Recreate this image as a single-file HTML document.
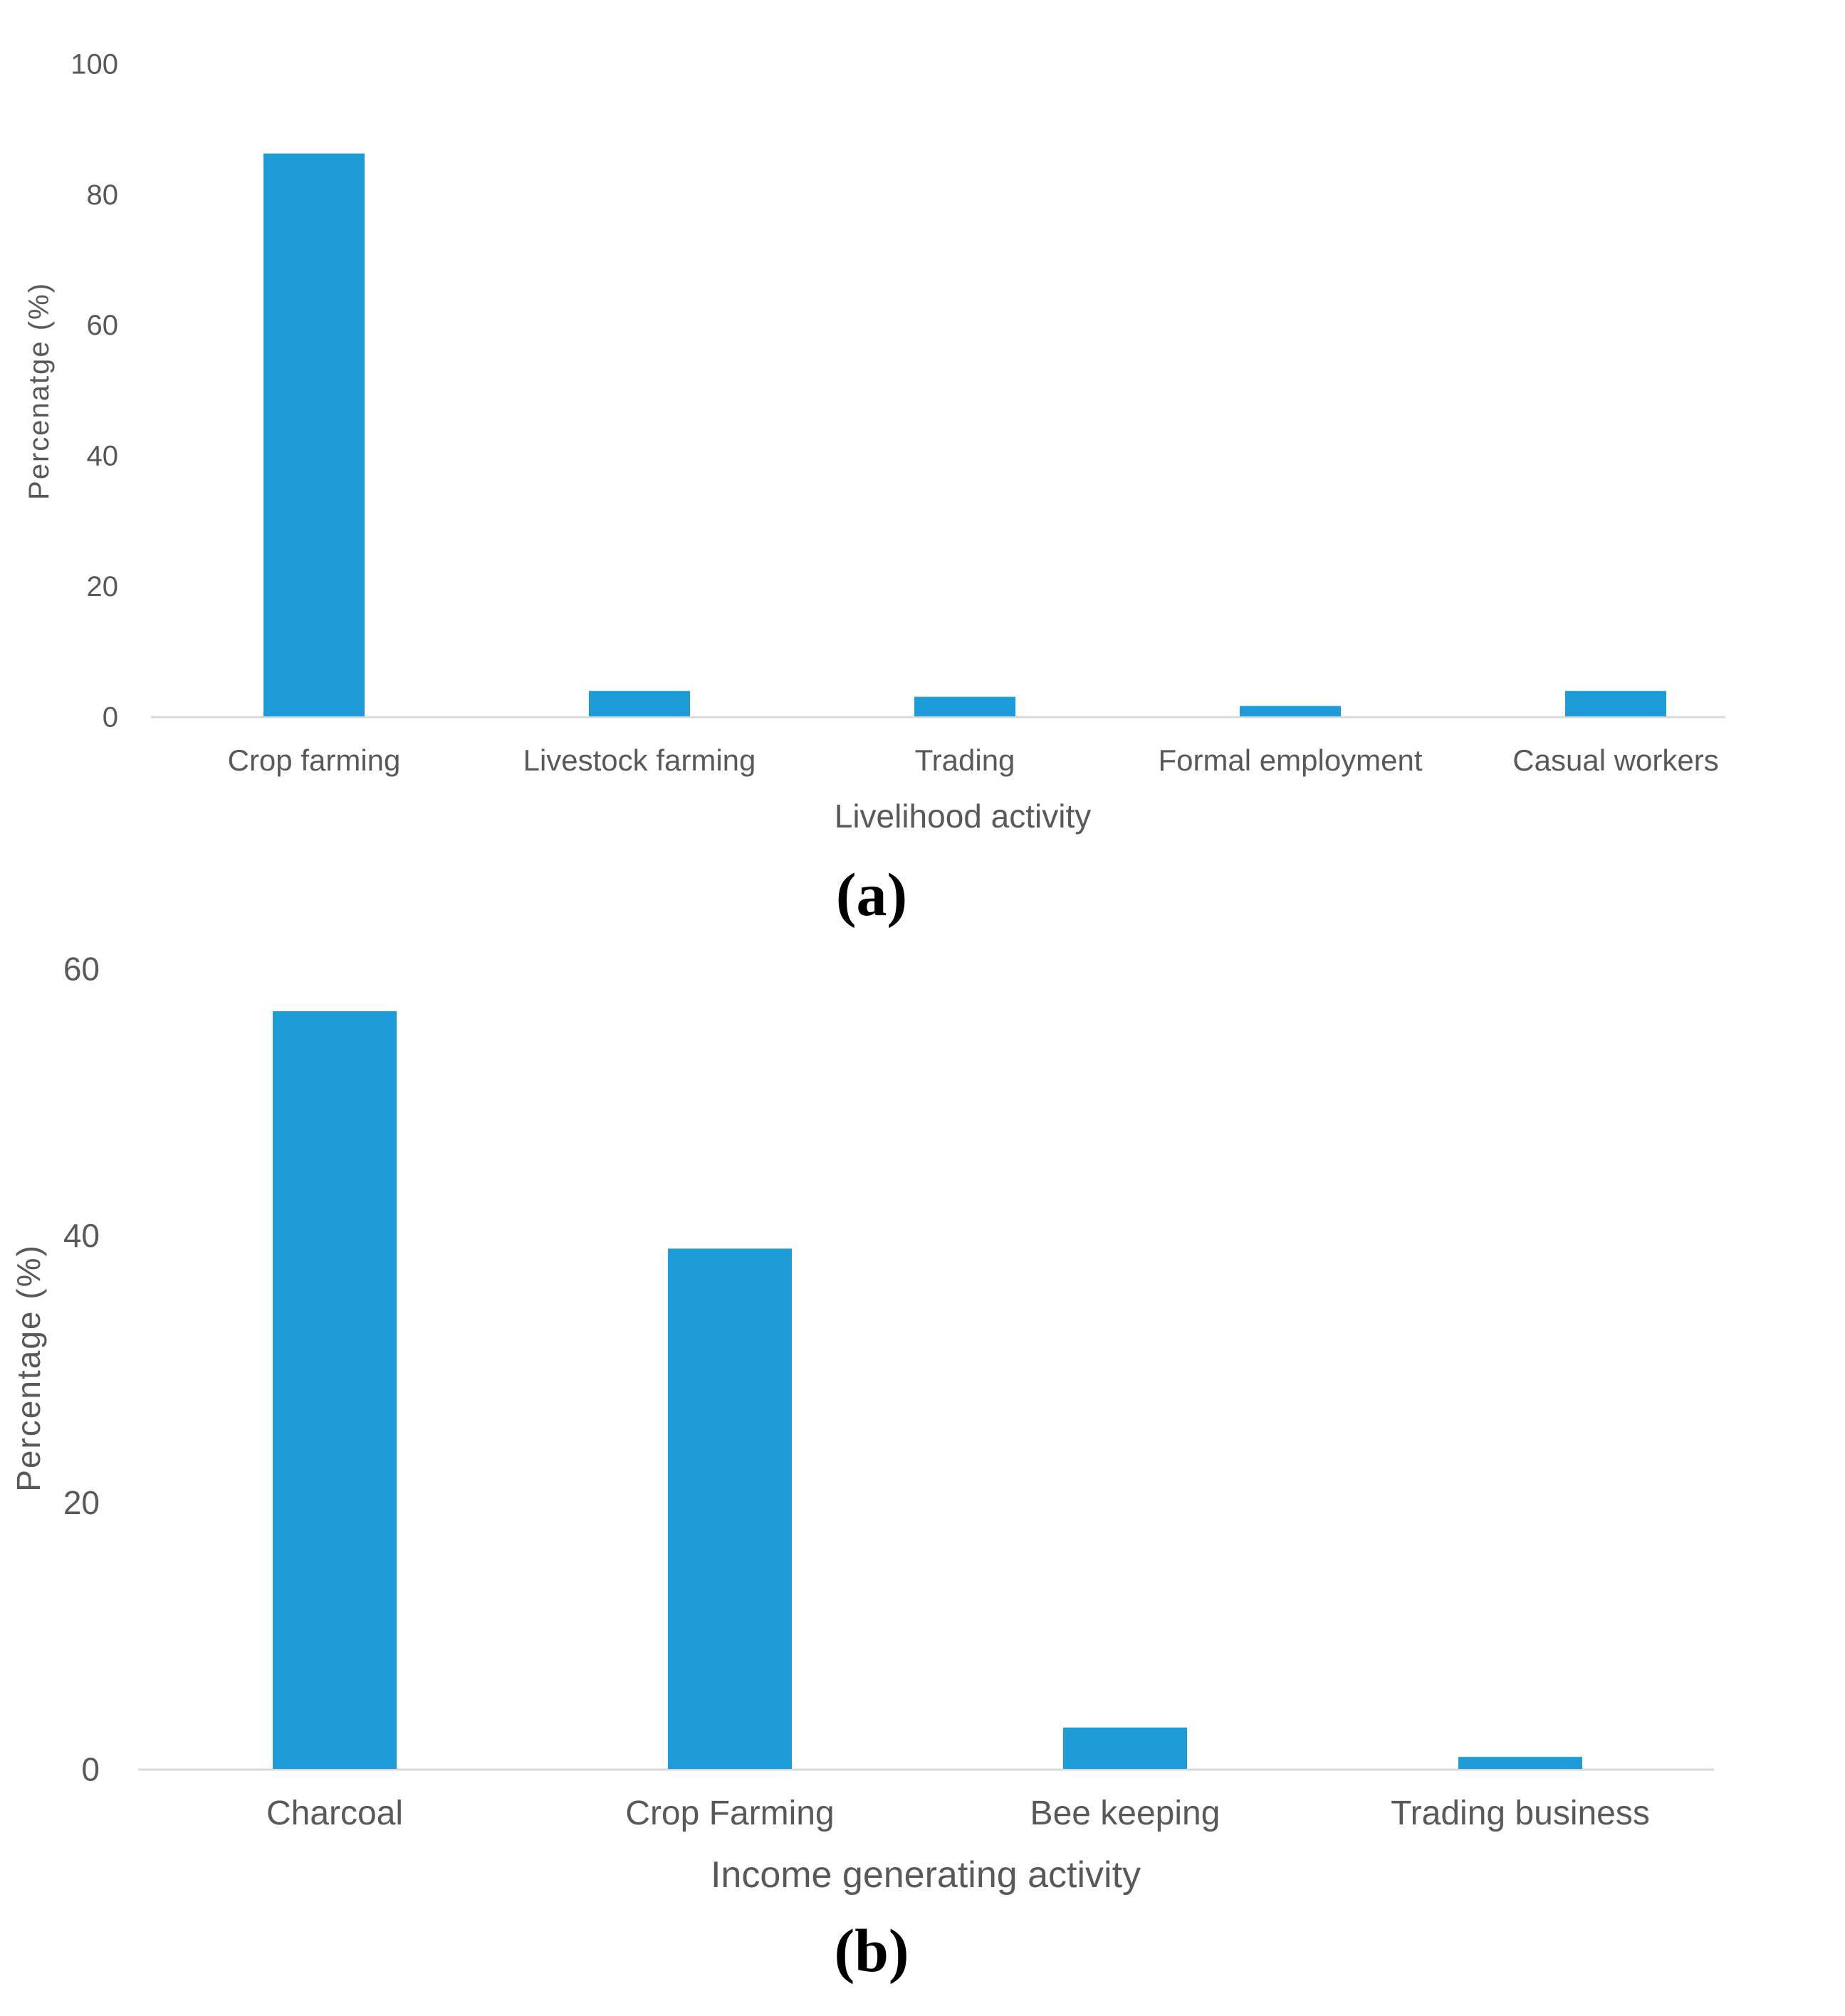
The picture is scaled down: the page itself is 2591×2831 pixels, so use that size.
<!DOCTYPE html>
<html><head><meta charset="utf-8"><style>
html,body{margin:0;padding:0;background:#fff;}
svg{display:block;font-family:"Liberation Sans",sans-serif;}
</style></head><body>
<svg id="fig" width="2591" height="2831" viewBox="0 0 2591 2831" xmlns="http://www.w3.org/2000/svg">
<g id="chartA"></g>
<g id="chartB"></g>
</svg>
<script>
const catsA = ["Crop farming","Livestock farming","Trading","Formal employment","Casual workers"];
const valsA = [86.2, 3.9, 3.0, 1.6, 3.9];
const ticksA = [0,20,40,60,80,100];
const catsB = ["Charcoal","Crop Farming","Bee keeping","Trading business"];
const valsB = [56.8, 39.0, 3.1, 0.9];
const ticksB = [0,20,40,60];

const NS="http://www.w3.org/2000/svg";
function mk(parent,tag,attrs,text){const e=document.createElementNS(NS,tag);for(const k in attrs)e.setAttribute(k,attrs[k]);if(text!==undefined)e.textContent=text;parent.appendChild(e);return e;}

function draw(g,cfg,cats,vals,ticks,ytitle,xtitle,letter,key){
  const yScale=v=>cfg.y0-(v-ticks[0])/(ticks[ticks.length-1]-ticks[0])*(cfg.y0-cfg.yTop);
  const xScale=i=>cfg.x0+i*cfg.step;
  ticks.forEach(t=>{
    const e=mk(g,"text",{x:cfg.tickX,y:yScale(t)+cfg.fs*0.36,"text-anchor":"end","font-size":cfg.fs,fill:"#595959"},String(t));
    
    
  });
  const ax=mk(g,"line",{x1:cfg.axL,x2:cfg.axR,y1:cfg.y0+1,y2:cfg.y0+1,stroke:"#d9d9d9","stroke-width":3});
  
  
  cats.forEach((c,i)=>{
    const top=yScale(vals[i]);
    const r=mk(g,"rect",{x:xScale(i)-cfg.bw/2,y:top,width:cfg.bw,height:cfg.y0-top,fill:"#1e9cd7"});
    
    
    const t=mk(g,"text",{x:xScale(i),y:cfg.catY,"text-anchor":"middle","font-size":cfg.cfs,fill:"#595959"},c);
    
    
  });
  const yt=mk(g,"text",{x:0,y:0,transform:`translate(${cfg.ytX},${cfg.ytY}) rotate(-90)`,"text-anchor":"middle","font-size":cfg.fs,fill:"#595959","letter-spacing":cfg.ls},ytitle);
  
  
  const xt=mk(g,"text",{x:cfg.xtX,y:cfg.xtY,"text-anchor":"middle","font-size":cfg.cfs+4,fill:"#595959"},xtitle);
  
  
  const lt=mk(g,"text",{x:1224,y:cfg.letY,"text-anchor":"middle","font-size":86,"font-weight":"bold","font-family":"Liberation Serif, serif",fill:"#000"},letter);
  
  
}

draw(document.getElementById('chartA'),
 {y0:1006,yTop:89,x0:441,step:457,bw:142,axL:212,axR:2423,tickX:166,fs:40,cfs:42,catY:1082,ytX:68,ytY:549,ls:2,xtX:1352,xtY:1162,letY:1285},
 catsA,valsA,ticksA,"Percenatge (%)","Livelihood activity","(a)","a");
draw(document.getElementById('chartB'),
 {y0:2484,yTop:1360,x0:470,step:555,bw:174,axL:194,axR:2407,tickX:140,fs:46,cfs:48,catY:2562,ytX:56,ytY:1921,ls:2,xtX:1300,xtY:2650,letY:2768},
 catsB,valsB,ticksB,"Percentage (%)","Income generating activity","(b)","b");
</script>
</body></html>
